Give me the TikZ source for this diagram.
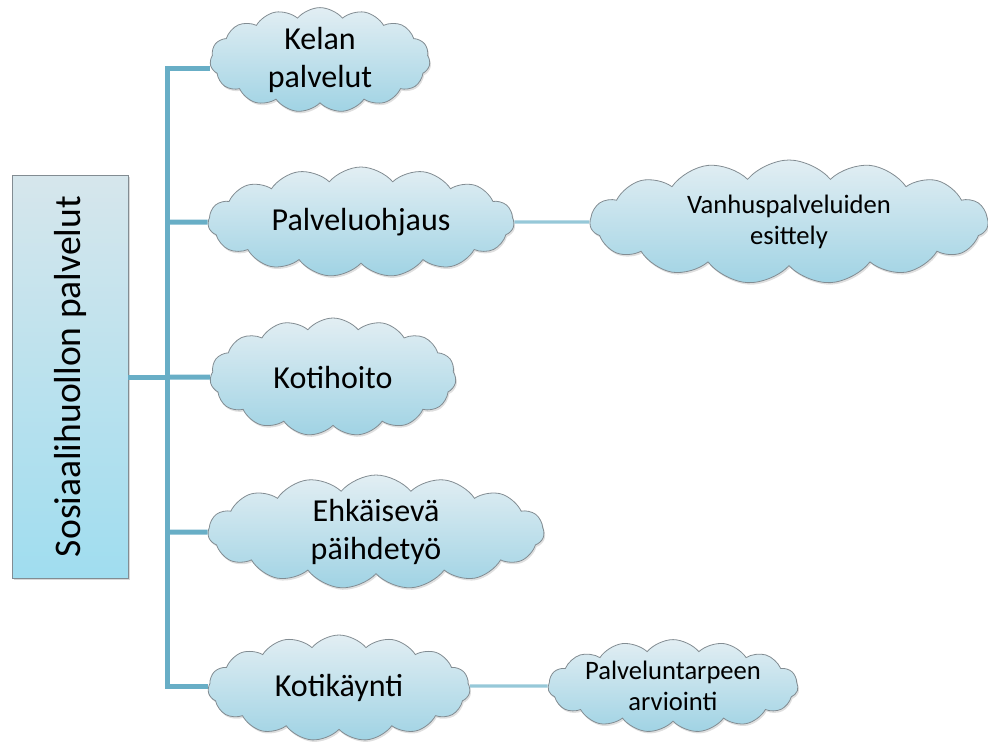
\documentclass[tikz,border=0pt]{standalone}
\usepackage{fontspec}
\setmainfont{Carlito}
\usetikzlibrary{shapes.symbols,shadows}
\definecolor{busblue}{RGB}{104,174,198}
\definecolor{linkblue}{RGB}{150,200,216}
\definecolor{cloudtop}{RGB}{226,238,243}
\definecolor{cloudbot}{RGB}{160,211,228}
\definecolor{boxtop}{RGB}{214,230,236}
\definecolor{boxbot}{RGB}{160,221,239}
\definecolor{edgegray}{RGB}{130,140,146}
\tikzset{
  bus/.style={busblue,line width=2.5pt},
  link/.style={linkblue,line width=1.6pt},
  puff/.style={cloud,cloud puffs=15,cloud puff arc=100,cloud ignores aspect,draw=edgegray,
               line width=0.4pt,top color=cloudtop,bottom color=cloudbot,align=center,
               inner sep=0pt,font=\fontsize{16}{19}\selectfont,
               drop shadow={opacity=0.25,shadow xshift=0.6pt,shadow yshift=-1pt}},
  smallpuff/.style={puff,font=\fontsize{13.3}{15.5}\selectfont},
  rootbox/.style={draw=edgegray,line width=0.4pt,top color=boxtop,bottom color=boxbot,
                  minimum width=58pt,minimum height=201.5pt,inner sep=0pt,
                  font=\fontsize{18.8}{22}\selectfont,
                  drop shadow={opacity=0.3,shadow xshift=1pt,shadow yshift=-1pt}},
}
\begin{document}
\begin{tikzpicture}[x=0.5pt,y=-0.5pt]
  \useasboundingbox (0,0) rectangle (988,745);

  % left box
  \node[rootbox] (root) at (70,376.5) {\rotatebox{90}{Sosiaalihuollon palvelut}};

  % first level
  \node[puff,minimum width=110pt,minimum height=51pt] (kelan) at (320,60) {Kelan\\palvelut};
  \node[puff,minimum width=153pt,minimum height=55pt] (ohjaus) at (361,222) {Palveluohjaus};
  \node[puff,minimum width=123pt,minimum height=59pt] (kotihoito) at (333,377) {Kotihoito};
  \node[puff,minimum width=168pt,minimum height=57pt] (ehkaisy) at (376,532) {Ehkäisevä\\päihdetyö};
  \node[puff,minimum width=131pt,minimum height=53pt] (kotik) at (339,688) {Kotikäynti};

  % second level
  \node[smallpuff,minimum width=199pt,minimum height=62pt] (vanhus) at (789,222) {Vanhuspalveluiden\\esittely};
  \node[smallpuff,minimum width=123pt,minimum height=46pt] (arvio) at (673,686) {Palveluntarpeen\\arviointi};

  % bus
  \coordinate (bustop) at (167,68);
  \coordinate (busbot) at (167,686);
  \coordinate (hub) at (167,377);
  \draw[bus] (bustop -| kelan.west) -- (bustop) -- (busbot) -- (busbot -| kotik.west);
  \draw[bus] (root.east |- hub) -- (hub);
  \draw[bus] (hub |- ohjaus) -- (ohjaus.west);
  \draw[bus] (hub) -- (kotihoito.west);
  \draw[bus] (hub |- ehkaisy) -- (ehkaisy.west);

  % links to second level
  \draw[link] (ohjaus.east) -- (vanhus.west);
  \draw[link] (kotik.east |- arvio) -- (arvio.west);
\end{tikzpicture}
\end{document}
